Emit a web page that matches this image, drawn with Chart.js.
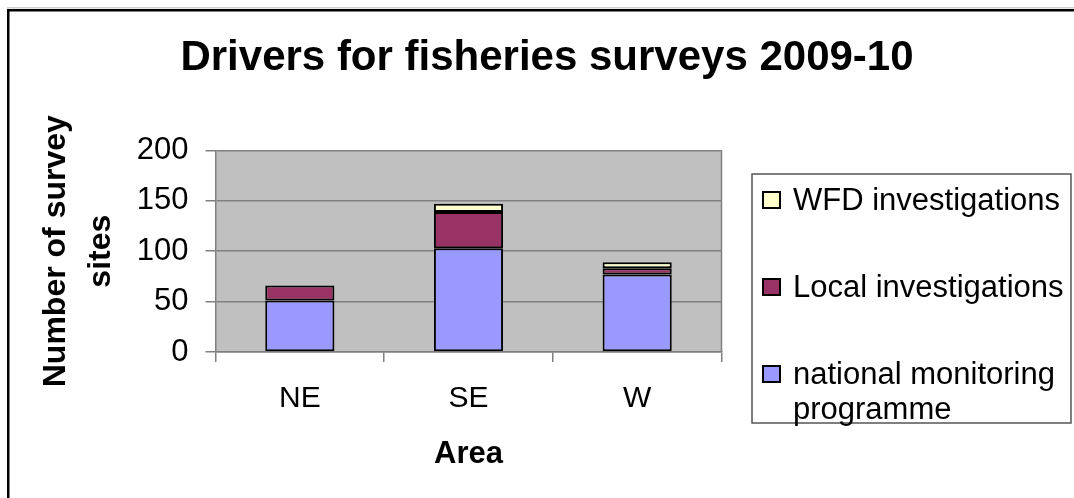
<!DOCTYPE html>
<html>
<head>
<meta charset="utf-8">
<title>Drivers for fisheries surveys 2009-10</title>
<script src="https://cdn.jsdelivr.net/npm/chart.js@4.4.0/dist/chart.umd.min.js"></script>
<style>
  html, body { margin: 0; padding: 0; background: #fff; }
  #wrap { width: 1074px; height: 498px; position: relative; }
</style>
</head>
<body>
<div id="wrap"><canvas id="myChart" width="1074" height="498"></canvas></div>
<script>
// survey sites per area, 2009-10
var areas = ['NE', 'SE', 'W'];
var nationalMonitoring = [51, 103, 77];
var localInvestigations = [15, 36, 6];
var wfdInvestigations = [0, 8, 6];
var yTicks = [0, 50, 100, 150, 200];

var FONT = "'Liberation Sans', Arial, sans-serif";

// white page, black frame and the grey plot box
const frame = {
    id: 'frame',
    beforeDraw: (chart) => {
        const {ctx, width, height, chartArea} = chart;
        ctx.save();
        ctx.fillStyle = 'white';
        ctx.fillRect(0, 0, width, height);
        ctx.fillStyle = '#d0d0d0';
        ctx.fillRect(7, 7, width, 1.5);
        ctx.fillStyle = '#000';
        ctx.fillRect(7, 9, width, 2.5);
        ctx.fillRect(7, 9, 2.5, height);
        ctx.fillStyle = '#c0c0c0';
        ctx.fillRect(chartArea.left, chartArea.top, chartArea.right - chartArea.left, chartArea.bottom - chartArea.top);
        ctx.restore();
    },
    afterDraw: (chart) => {
        const {ctx, chartArea} = chart;
        ctx.save();
        ctx.strokeStyle = '#808080';
        ctx.lineWidth = 1.5;
        ctx.beginPath();
        ctx.moveTo(chartArea.right, chartArea.top);
        ctx.lineTo(chartArea.right, chartArea.bottom);
        ctx.stroke();
        ctx.restore();
    }
};

// boxed legend on the right, last series first, long labels wrapped
const boxLegend = {
    id: 'boxLegend',
    afterDraw: (chart) => {
        const ctx = chart.ctx;
        const box = {x: 752, y: 174, w: 319, h: 249};
        const rows = [200, 287, 374];
        const lineGap = 35;
        ctx.save();
        ctx.strokeStyle = '#555';
        ctx.lineWidth = 1.5;
        ctx.strokeRect(box.x, box.y, box.w, box.h);
        ctx.font = '31px ' + FONT;
        ctx.textBaseline = 'middle';
        ctx.fillStyle = '#000';
        var sets = chart.data.datasets.slice().reverse();
        sets.forEach(function(ds, i) {
            var cy = rows[i];
            ctx.fillStyle = ds.backgroundColor;
            ctx.fillRect(763, cy - 8, 17, 16);
            ctx.strokeStyle = '#000';
            ctx.lineWidth = 2;
            ctx.strokeRect(763, cy - 8, 17, 16);
            // wrap the label to the box width
            var words = ds.label.split(' ');
            var lines = [];
            var cur = '';
            words.forEach(function(w) {
                var t = cur ? cur + ' ' + w : w;
                if (ctx.measureText(t).width > 274 && cur) {
                    lines.push(cur);
                    cur = w;
                } else {
                    cur = t;
                }
            });
            lines.push(cur);
            ctx.fillStyle = '#000';
            lines.forEach(function(l, j) {
                ctx.fillText(l, 793, cy + 1 + j * lineGap);
            });
        });
        ctx.restore();
    }
};

const data = {
    labels: areas,
    datasets: [{
        label: 'national monitoring programme',
        data: nationalMonitoring,
        backgroundColor: '#9999ff'
    }, {
        label: 'Local investigations',
        data: localInvestigations,
        backgroundColor: '#993366'
    }, {
        label: 'WFD investigations',
        data: wfdInvestigations,
        backgroundColor: '#ffffcc'
    }]
};

data.datasets.forEach(function(ds) {
    ds.borderColor = '#000';
    ds.borderWidth = 2;
    ds.borderSkipped = false;
    ds.barPercentage = 0.41;
    ds.categoryPercentage = 1.0;
});

const config = {
    type: 'bar',
    data,
    options: {
        responsive: false,
        animation: false,
        layout: { padding: { left: 20, right: 0, top: 0, bottom: 0 } },
        plugins: {
            legend: { display: false },
            tooltip: { enabled: false },
            title: {
                display: true,
                text: 'Drivers for fisheries surveys 2009-10',
                color: '#000',
                font: { family: FONT, size: 42, weight: 'bold', lineHeight: 1.2 },
                padding: { top: 33, bottom: 67 }
            }
        },
        scales: {
            x: {
                stacked: true,
                afterFit: (scale) => { scale.height = 146; },
                grid: {
                    offset: true,
                    drawOnChartArea: false,
                    drawTicks: true,
                    tickLength: 10,
                    color: '#808080',
                    lineWidth: 1.5
                },
                border: { display: true, color: '#808080', width: 1.5 },
                ticks: {
                    color: '#000',
                    padding: 19,
                    font: { family: FONT, size: 30 }
                },
                title: {
                    display: true,
                    text: 'Area',
                    color: '#000',
                    font: { family: FONT, size: 31, weight: 'bold', lineHeight: 1.2 },
                    padding: { top: 0, bottom: 25 }
                }
            },
            y: {
                stacked: true,
                min: 0,
                max: 200,
                afterFit: (scale) => { scale.width = 195.5; },
                afterBuildTicks: (scale) => {
                    scale.ticks = yTicks.map(v => ({value: v}));
                },
                grid: {
                    color: '#808080',
                    lineWidth: 1.5,
                    drawTicks: true,
                    tickLength: 10
                },
                border: { display: true, color: '#808080', width: 1.5 },
                ticks: {
                    color: '#000',
                    padding: 17,
                    font: { family: FONT, size: 31 }
                },
                title: {
                    display: true,
                    text: ['Number of survey', 'sites'],
                    color: '#000',
                    font: { family: FONT, size: 32, weight: 'bold', lineHeight: 1.4 },
                    padding: { top: 14, bottom: 0 }
                }
            },
            // empty right-hand axis keeps room for the legend box
            y2: {
                position: 'right',
                display: true,
                afterFit: (scale) => { scale.width = 352.5; },
                grid: { display: false },
                border: { display: false },
                ticks: { display: false }
            }
        }
    },
    plugins: [frame, boxLegend]
};

const myChart = new Chart(
    document.getElementById('myChart'),
    config
);
</script>
</body>
</html>
